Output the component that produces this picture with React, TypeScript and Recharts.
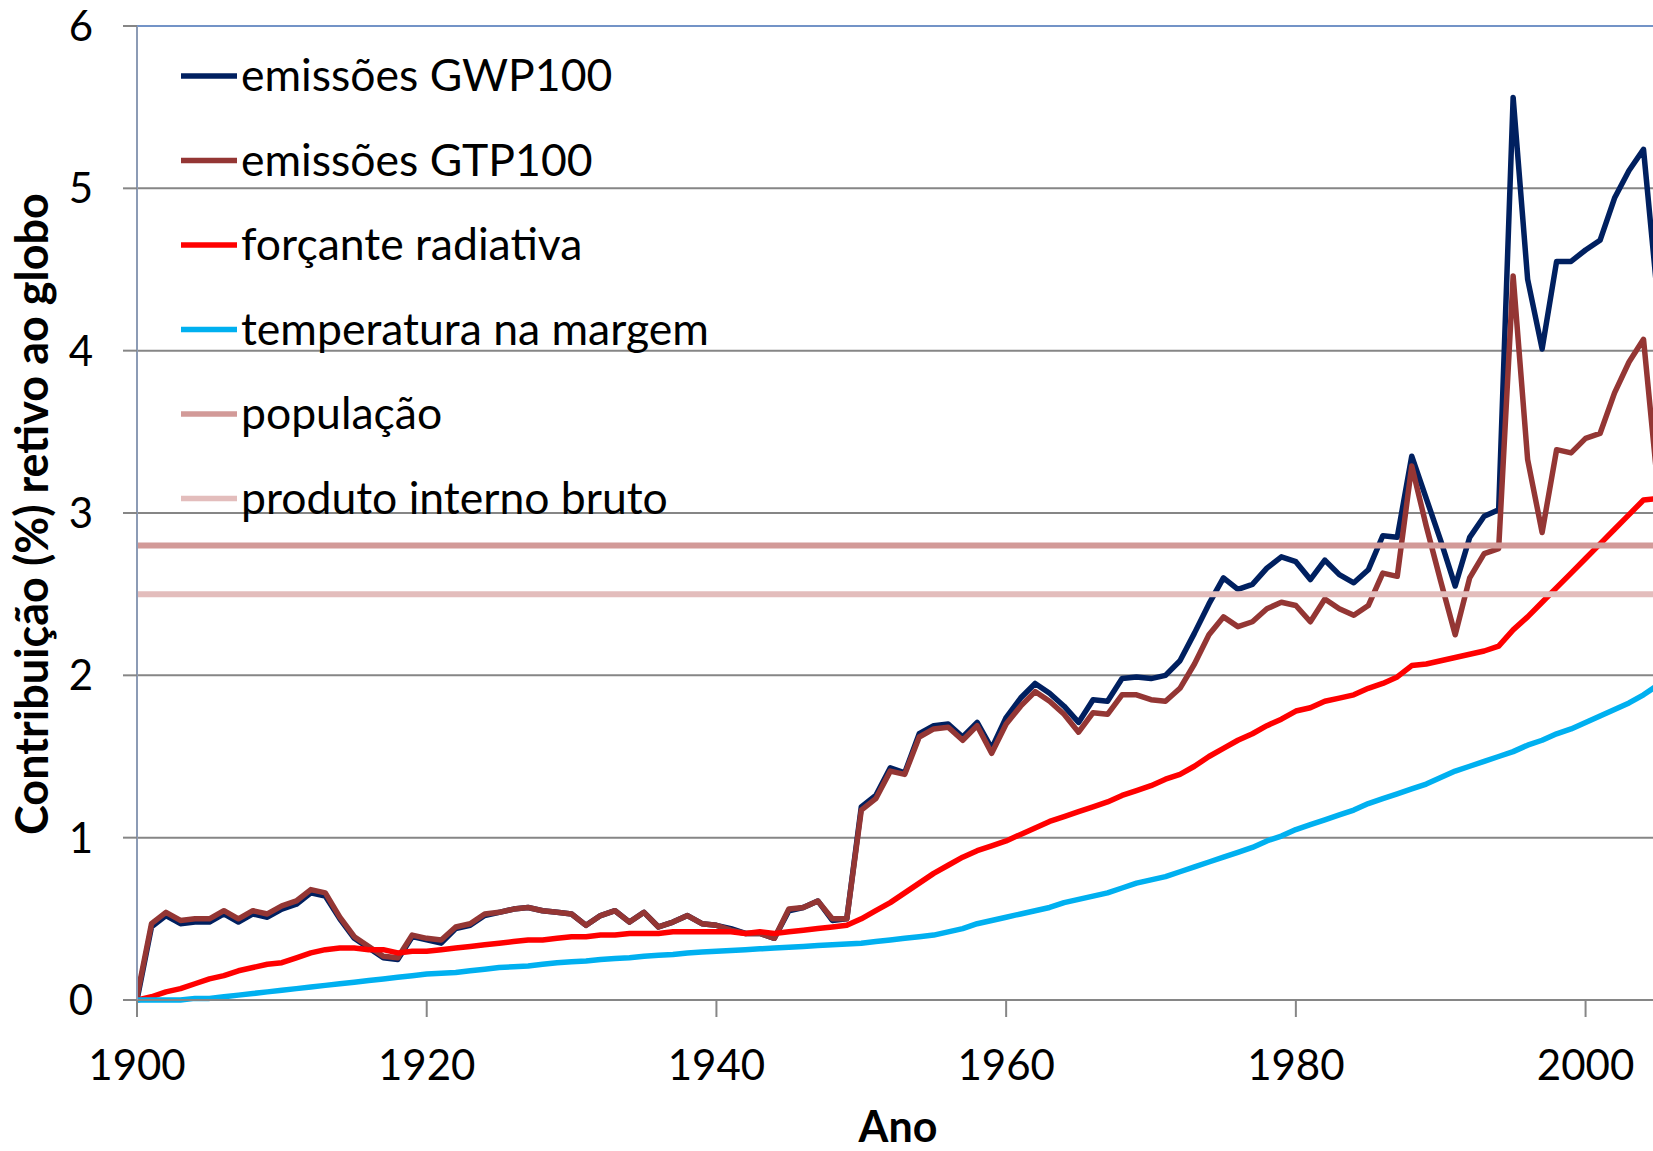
import React from 'react';
import { LineChart, Line, XAxis, YAxis, CartesianGrid, ReferenceLine } from 'recharts';

// yearly values, 1900..2005
const ANO_INICIAL = 1900;

const GWP100 = [
  0.00, 0.45, 0.52, 0.47, 0.48, 0.48, 0.53, 0.48, 0.53, 0.51,
  0.56, 0.59, 0.66, 0.64, 0.50, 0.38, 0.32, 0.26, 0.25, 0.39,
  0.37, 0.35, 0.44, 0.46, 0.52, 0.54, 0.56, 0.57, 0.55, 0.54,
  0.53, 0.46, 0.52, 0.55, 0.48, 0.54, 0.45, 0.48, 0.52, 0.47,
  0.46, 0.44, 0.41, 0.41, 0.38, 0.55, 0.57, 0.61, 0.49, 0.50,
  1.19, 1.26, 1.43, 1.40, 1.64, 1.69, 1.70, 1.62, 1.71, 1.55,
  1.74, 1.86, 1.95, 1.89, 1.81, 1.71, 1.85, 1.84, 1.98, 1.99,
  1.98, 2.00, 2.09, 2.26, 2.44, 2.60, 2.53, 2.56, 2.66, 2.73,
  2.70, 2.59, 2.71, 2.62, 2.57, 2.65, 2.86, 2.85, 3.35, 3.09,
  2.83, 2.55, 2.85, 2.98, 3.02, 5.56, 4.44, 4.01, 4.55, 4.55,
  4.62, 4.68, 4.94, 5.11, 5.24, 4.30
];

const GTP100 = [
  0.02, 0.47, 0.54, 0.49, 0.50, 0.50, 0.55, 0.50, 0.55, 0.53,
  0.58, 0.61, 0.68, 0.66, 0.51, 0.39, 0.33, 0.27, 0.26, 0.40,
  0.38, 0.37, 0.45, 0.47, 0.53, 0.54, 0.56, 0.57, 0.55, 0.54,
  0.53, 0.46, 0.52, 0.55, 0.48, 0.54, 0.45, 0.48, 0.52, 0.47,
  0.46, 0.43, 0.41, 0.41, 0.38, 0.56, 0.57, 0.61, 0.50, 0.50,
  1.17, 1.24, 1.41, 1.39, 1.62, 1.67, 1.68, 1.60, 1.69, 1.52,
  1.70, 1.81, 1.90, 1.84, 1.76, 1.65, 1.77, 1.76, 1.88, 1.88,
  1.85, 1.84, 1.92, 2.07, 2.25, 2.36, 2.30, 2.33, 2.41, 2.45,
  2.43, 2.33, 2.47, 2.41, 2.37, 2.43, 2.63, 2.61, 3.29, 2.92,
  2.58, 2.25, 2.60, 2.75, 2.78, 4.46, 3.33, 2.88, 3.39, 3.37,
  3.46, 3.49, 3.74, 3.93, 4.07, 3.15
];

const FORCANTE = [
  0.00, 0.02, 0.05, 0.07, 0.10, 0.13, 0.15, 0.18, 0.20, 0.22,
  0.23, 0.26, 0.29, 0.31, 0.32, 0.32, 0.31, 0.31, 0.29, 0.30,
  0.30, 0.31, 0.32, 0.33, 0.34, 0.35, 0.36, 0.37, 0.37, 0.38,
  0.39, 0.39, 0.40, 0.40, 0.41, 0.41, 0.41, 0.42, 0.42, 0.42,
  0.42, 0.42, 0.41, 0.42, 0.41, 0.42, 0.43, 0.44, 0.45, 0.46,
  0.50, 0.55, 0.60, 0.66, 0.72, 0.78, 0.83, 0.88, 0.92, 0.95,
  0.98, 1.02, 1.06, 1.10, 1.13, 1.16, 1.19, 1.22, 1.26, 1.29,
  1.32, 1.36, 1.39, 1.44, 1.50, 1.55, 1.60, 1.64, 1.69, 1.73,
  1.78, 1.80, 1.84, 1.86, 1.88, 1.92, 1.95, 1.99, 2.06, 2.07,
  2.09, 2.11, 2.13, 2.15, 2.18, 2.28, 2.36, 2.45, 2.54, 2.63,
  2.72, 2.81, 2.90, 2.99, 3.08, 3.09
];

const TEMPERATURA = [
  0.00, 0.00, 0.00, 0.00, 0.01, 0.01, 0.02, 0.03, 0.04, 0.05,
  0.06, 0.07, 0.08, 0.09, 0.10, 0.11, 0.12, 0.13, 0.14, 0.15,
  0.16, 0.165, 0.17, 0.18, 0.19, 0.20, 0.205, 0.21, 0.22, 0.23,
  0.235, 0.24, 0.25, 0.255, 0.26, 0.27, 0.275, 0.28, 0.29, 0.295,
  0.30, 0.305, 0.31, 0.315, 0.32, 0.325, 0.33, 0.335, 0.34, 0.345,
  0.35, 0.36, 0.37, 0.38, 0.39, 0.40, 0.42, 0.44, 0.47, 0.49,
  0.51, 0.53, 0.55, 0.57, 0.60, 0.62, 0.64, 0.66, 0.69, 0.72,
  0.74, 0.76, 0.79, 0.82, 0.85, 0.88, 0.91, 0.94, 0.98, 1.01,
  1.05, 1.08, 1.11, 1.14, 1.17, 1.21, 1.24, 1.27, 1.30, 1.33,
  1.37, 1.41, 1.44, 1.47, 1.50, 1.53, 1.57, 1.60, 1.64, 1.67,
  1.71, 1.75, 1.79, 1.83, 1.88, 1.94
];

// constant shares, drawn as flat lines
const POPULACAO = 2.8;
const PIB = 2.5;

const X_TICKS = [1900, 1920, 1940, 1960, 1980, 2000];
const Y_TICKS = [0, 1, 2, 3, 4, 5, 6];

const SERIES = [
  { key: 'gwp', name: 'emissões GWP100', color: '#002060' },
  { key: 'gtp', name: 'emissões GTP100', color: '#943634' },
  { key: 'forcante', name: 'forçante radiativa', color: '#FF0000' },
  { key: 'temp', name: 'temperatura na margem', color: '#00B0F0' },
  { key: 'pop', name: 'população', color: '#D29A98' },
  { key: 'pib', name: 'produto interno bruto', color: '#E3BDBC' }
];

const data = GWP100.map((v, i) => ({
  ano: ANO_INICIAL + i,
  gwp: v,
  gtp: GTP100[i],
  forcante: FORCANTE[i],
  temp: TEMPERATURA[i]
}));

const FONT = 'Lato, Carlito, Calibri, sans-serif';
const GRID = '#868686';

export default function App() {
  return (
    <div style={{ position: 'relative', width: 1653, height: 1151, overflow: 'hidden', background: '#fff' }}>
      <style>{'body{margin:0}'}</style>
      <LineChart width={1658} height={1151} data={data} margin={{ top: 26, right: 0, bottom: 0, left: 0 }}>
        <CartesianGrid vertical={false} stroke={GRID} strokeWidth={2} />
        <XAxis
          type="number"
          dataKey="ano"
          domain={[1900, 2005]}
          ticks={X_TICKS}
          allowDataOverflow
          height={151}
          tickSize={17}
          tickMargin={33}
          axisLine={{ stroke: GRID, strokeWidth: 2 }}
          tickLine={{ stroke: GRID, strokeWidth: 2 }}
          tick={{ fill: '#000', fontSize: 42, fontFamily: FONT }}
        />
        <YAxis
          type="number"
          domain={[0, 6]}
          ticks={Y_TICKS}
          width={137}
          tickSize={14}
          tickMargin={30}
          axisLine={{ stroke: '#8C9BB5', strokeWidth: 2 }}
          tickLine={{ stroke: GRID, strokeWidth: 2 }}
          tick={{ fill: '#000', fontSize: 42, fontFamily: FONT }}
        />
        <ReferenceLine y={6} stroke="#7393C7" strokeWidth={2} />
        {SERIES.slice(0, 4).map((s) => (
          <Line
            key={s.key}
            type="linear"
            dataKey={s.key}
            name={s.name}
            stroke={s.color}
            strokeWidth={5.5}
            strokeLinejoin="round"
            dot={false}
            isAnimationActive={false}
          />
        ))}
        <ReferenceLine y={POPULACAO} stroke={SERIES[4].color} strokeWidth={6} />
        <ReferenceLine y={PIB} stroke={SERIES[5].color} strokeWidth={6} />
      </LineChart>

      <svg
        width={1653}
        height={1151}
        style={{ position: 'absolute', left: 0, top: 0, pointerEvents: 'none' }}
        fontFamily={FONT}
      >
        {SERIES.map((s, i) => {
          const cy = 76 + i * 84.5;
          return (
            <g key={s.key}>
              <line x1={181} x2={237} y1={cy} y2={cy} stroke={s.color} strokeWidth={5.5} />
              <text x={241} y={cy + 15} fontSize={44.5} fill="#000">{s.name}</text>
            </g>
          );
        })}
        <text
          transform="translate(48,514) rotate(-90)"
          textAnchor="middle"
          fontSize={45}
          fontWeight="bold"
          fill="#000"
        >
          Contribuição (%) retivo ao globo
        </text>
        <text x={898} y={1142} textAnchor="middle" fontSize={43} fontWeight="bold" fill="#000">
          Ano
        </text>
      </svg>
    </div>
  );
}
